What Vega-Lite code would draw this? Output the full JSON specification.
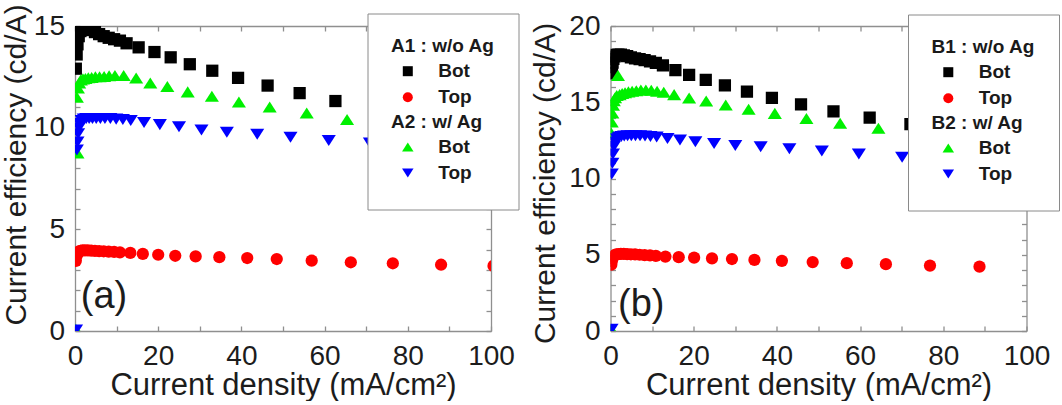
{
  "$schema": "https://vega.github.io/schema/vega-lite/v6.json",
  "background": "white",
  "padding": {"left": 1, "top": 3, "right": 0, "bottom": 0},
  "autosize": {"type": "pad"},
  "config": {
    "view": {"stroke": null},
    "font": "Liberation Sans",
    "axis": {
      "domainColor": "#8f8f8f", "domainWidth": 1.3,
      "tickColor": "#8f8f8f", "tickWidth": 1.3, "tickSize": -5,
      "grid": false,
      "labelFont": "Liberation Sans", "labelFontSize": 28, "labelColor": "#1c1c1c",
      "labelOverlap": false, "labelFlush": false, "labelBound": false,
      "titleFont": "Liberation Sans", "titleFontSize": 30, "titleFontWeight": "normal", "titleColor": "#1c1c1c"
    },
    "axisX": {"labelPadding": 16.8, "titlePadding": 0, "titleFontSize": 31},
    "axisY": {"labelPadding": 15.5, "titlePadding": 2},
    "legend": {
      "orient": "none", "direction": "vertical",
      "fillColor": "white", "strokeColor": "#8a8a8a", "padding": 23.5,
      "titleFont": "Liberation Sans", "titleFontSize": 19, "titleFontWeight": "bold", "titleColor": "#1a1a1a",
      "titlePadding": 5.7, "titleLimit": 300,
      "labelFont": "Liberation Sans", "labelFontSize": 19, "labelFontWeight": "bold", "labelColor": "#1a1a1a",
      "labelLimit": 300, "rowPadding": 6, "symbolOffset": 7.3, "labelOffset": 20.9, "symbolStrokeWidth": 0
    }
  },
  "datasets": {
    "pts": [
      {"panel": "a", "series": "A1 Bot", "J": 0.2, "CE": 12.9},
      {"panel": "a", "series": "A1 Bot", "J": 0.4, "CE": 13.6},
      {"panel": "a", "series": "A1 Bot", "J": 0.6, "CE": 14.1},
      {"panel": "a", "series": "A1 Bot", "J": 0.9, "CE": 14.5},
      {"panel": "a", "series": "A1 Bot", "J": 1.3, "CE": 14.75},
      {"panel": "a", "series": "A1 Bot", "J": 1.8, "CE": 14.85},
      {"panel": "a", "series": "A1 Bot", "J": 2.4, "CE": 14.85},
      {"panel": "a", "series": "A1 Bot", "J": 3.1, "CE": 14.85},
      {"panel": "a", "series": "A1 Bot", "J": 3.9, "CE": 14.8},
      {"panel": "a", "series": "A1 Bot", "J": 4.8, "CE": 14.7},
      {"panel": "a", "series": "A1 Bot", "J": 5.8, "CE": 14.6},
      {"panel": "a", "series": "A1 Bot", "J": 6.9, "CE": 14.5},
      {"panel": "a", "series": "A1 Bot", "J": 8.1, "CE": 14.42},
      {"panel": "a", "series": "A1 Bot", "J": 9.4, "CE": 14.35},
      {"panel": "a", "series": "A1 Bot", "J": 10.8, "CE": 14.28},
      {"panel": "a", "series": "A1 Bot", "J": 12.4, "CE": 14.15},
      {"panel": "a", "series": "A1 Bot", "J": 15.3, "CE": 13.95},
      {"panel": "a", "series": "A1 Bot", "J": 19.1, "CE": 13.72},
      {"panel": "a", "series": "A1 Bot", "J": 23.0, "CE": 13.46},
      {"panel": "a", "series": "A1 Bot", "J": 27.6, "CE": 13.12},
      {"panel": "a", "series": "A1 Bot", "J": 33.0, "CE": 12.8},
      {"panel": "a", "series": "A1 Bot", "J": 39.2, "CE": 12.45},
      {"panel": "a", "series": "A1 Bot", "J": 46.3, "CE": 12.07},
      {"panel": "a", "series": "A1 Bot", "J": 54.0, "CE": 11.7},
      {"panel": "a", "series": "A1 Bot", "J": 62.6, "CE": 11.31},
      {"panel": "a", "series": "A1 Bot", "J": 72.0, "CE": 10.98},
      {"panel": "a", "series": "A1 Bot", "J": 82.3, "CE": 10.65},
      {"panel": "a", "series": "A1 Bot", "J": 93.5, "CE": 10.3},

      {"panel": "a", "series": "A1 Top", "J": 0.2, "CE": 3.45},
      {"panel": "a", "series": "A1 Top", "J": 0.4, "CE": 3.7},
      {"panel": "a", "series": "A1 Top", "J": 0.6, "CE": 3.82},
      {"panel": "a", "series": "A1 Top", "J": 0.9, "CE": 3.9},
      {"panel": "a", "series": "A1 Top", "J": 1.3, "CE": 3.94},
      {"panel": "a", "series": "A1 Top", "J": 1.8, "CE": 3.96},
      {"panel": "a", "series": "A1 Top", "J": 2.4, "CE": 3.96},
      {"panel": "a", "series": "A1 Top", "J": 3.1, "CE": 3.96},
      {"panel": "a", "series": "A1 Top", "J": 3.9, "CE": 3.95},
      {"panel": "a", "series": "A1 Top", "J": 4.8, "CE": 3.94},
      {"panel": "a", "series": "A1 Top", "J": 5.8, "CE": 3.93},
      {"panel": "a", "series": "A1 Top", "J": 6.9, "CE": 3.92},
      {"panel": "a", "series": "A1 Top", "J": 8.1, "CE": 3.9},
      {"panel": "a", "series": "A1 Top", "J": 9.4, "CE": 3.89},
      {"panel": "a", "series": "A1 Top", "J": 10.8, "CE": 3.87},
      {"panel": "a", "series": "A1 Top", "J": 13.3, "CE": 3.84},
      {"panel": "a", "series": "A1 Top", "J": 16.3, "CE": 3.79},
      {"panel": "a", "series": "A1 Top", "J": 20.0, "CE": 3.75},
      {"panel": "a", "series": "A1 Top", "J": 24.1, "CE": 3.7},
      {"panel": "a", "series": "A1 Top", "J": 29.0, "CE": 3.67},
      {"panel": "a", "series": "A1 Top", "J": 34.7, "CE": 3.63},
      {"panel": "a", "series": "A1 Top", "J": 41.4, "CE": 3.59},
      {"panel": "a", "series": "A1 Top", "J": 48.5, "CE": 3.54},
      {"panel": "a", "series": "A1 Top", "J": 56.9, "CE": 3.46},
      {"panel": "a", "series": "A1 Top", "J": 66.3, "CE": 3.38},
      {"panel": "a", "series": "A1 Top", "J": 76.4, "CE": 3.33},
      {"panel": "a", "series": "A1 Top", "J": 88.0, "CE": 3.26},
      {"panel": "a", "series": "A1 Top", "J": 100.6, "CE": 3.2},

      {"panel": "a", "series": "A2 Bot", "J": 0.2, "CE": 0.08},
      {"panel": "a", "series": "A2 Bot", "J": 0.6, "CE": 8.75},
      {"panel": "a", "series": "A2 Bot", "J": 0.45, "CE": 11.5},
      {"panel": "a", "series": "A2 Bot", "J": 0.7, "CE": 11.95},
      {"panel": "a", "series": "A2 Bot", "J": 1.0, "CE": 12.2},
      {"panel": "a", "series": "A2 Bot", "J": 1.4, "CE": 12.35},
      {"panel": "a", "series": "A2 Bot", "J": 1.9, "CE": 12.4},
      {"panel": "a", "series": "A2 Bot", "J": 2.5, "CE": 12.42},
      {"panel": "a", "series": "A2 Bot", "J": 3.2, "CE": 12.45},
      {"panel": "a", "series": "A2 Bot", "J": 4.0, "CE": 12.47},
      {"panel": "a", "series": "A2 Bot", "J": 4.9, "CE": 12.5},
      {"panel": "a", "series": "A2 Bot", "J": 5.9, "CE": 12.5},
      {"panel": "a", "series": "A2 Bot", "J": 7.0, "CE": 12.52},
      {"panel": "a", "series": "A2 Bot", "J": 8.2, "CE": 12.55},
      {"panel": "a", "series": "A2 Bot", "J": 9.6, "CE": 12.57},
      {"panel": "a", "series": "A2 Bot", "J": 11.7, "CE": 12.57},
      {"panel": "a", "series": "A2 Bot", "J": 14.7, "CE": 12.44},
      {"panel": "a", "series": "A2 Bot", "J": 18.1, "CE": 12.2},
      {"panel": "a", "series": "A2 Bot", "J": 22.2, "CE": 12.03},
      {"panel": "a", "series": "A2 Bot", "J": 27.1, "CE": 11.76},
      {"panel": "a", "series": "A2 Bot", "J": 32.9, "CE": 11.55},
      {"panel": "a", "series": "A2 Bot", "J": 39.4, "CE": 11.26},
      {"panel": "a", "series": "A2 Bot", "J": 46.8, "CE": 11.02},
      {"panel": "a", "series": "A2 Bot", "J": 55.7, "CE": 10.72},
      {"panel": "a", "series": "A2 Bot", "J": 65.4, "CE": 10.4},
      {"panel": "a", "series": "A2 Bot", "J": 76.0, "CE": 10.1},
      {"panel": "a", "series": "A2 Bot", "J": 87.5, "CE": 9.8},
      {"panel": "a", "series": "A2 Bot", "J": 99.5, "CE": 9.5},

      {"panel": "a", "series": "A2 Top", "J": 0.25, "CE": 0.05},
      {"panel": "a", "series": "A2 Top", "J": 0.45, "CE": 8.9},
      {"panel": "a", "series": "A2 Top", "J": 0.6, "CE": 9.3},
      {"panel": "a", "series": "A2 Top", "J": 0.75, "CE": 9.7},
      {"panel": "a", "series": "A2 Top", "J": 0.95, "CE": 10.0},
      {"panel": "a", "series": "A2 Top", "J": 1.2, "CE": 10.2},
      {"panel": "a", "series": "A2 Top", "J": 1.6, "CE": 10.35},
      {"panel": "a", "series": "A2 Top", "J": 2.1, "CE": 10.42},
      {"panel": "a", "series": "A2 Top", "J": 2.7, "CE": 10.45},
      {"panel": "a", "series": "A2 Top", "J": 3.4, "CE": 10.45},
      {"panel": "a", "series": "A2 Top", "J": 4.2, "CE": 10.45},
      {"panel": "a", "series": "A2 Top", "J": 5.1, "CE": 10.45},
      {"panel": "a", "series": "A2 Top", "J": 6.1, "CE": 10.45},
      {"panel": "a", "series": "A2 Top", "J": 7.2, "CE": 10.45},
      {"panel": "a", "series": "A2 Top", "J": 8.5, "CE": 10.45},
      {"panel": "a", "series": "A2 Top", "J": 9.9, "CE": 10.42},
      {"panel": "a", "series": "A2 Top", "J": 11.5, "CE": 10.4},
      {"panel": "a", "series": "A2 Top", "J": 13.4, "CE": 10.35},
      {"panel": "a", "series": "A2 Top", "J": 16.6, "CE": 10.25},
      {"panel": "a", "series": "A2 Top", "J": 20.4, "CE": 10.15},
      {"panel": "a", "series": "A2 Top", "J": 25.0, "CE": 10.05},
      {"panel": "a", "series": "A2 Top", "J": 30.4, "CE": 9.88},
      {"panel": "a", "series": "A2 Top", "J": 36.5, "CE": 9.78},
      {"panel": "a", "series": "A2 Top", "J": 43.8, "CE": 9.68},
      {"panel": "a", "series": "A2 Top", "J": 51.8, "CE": 9.53},
      {"panel": "a", "series": "A2 Top", "J": 61.0, "CE": 9.37},
      {"panel": "a", "series": "A2 Top", "J": 70.9, "CE": 9.24},
      {"panel": "a", "series": "A2 Top", "J": 81.8, "CE": 9.05},
      {"panel": "a", "series": "A2 Top", "J": 93.5, "CE": 8.85},

      {"panel": "b", "series": "B1 Bot", "J": 0.2, "CE": 16.9},
      {"panel": "b", "series": "B1 Bot", "J": 0.35, "CE": 17.3},
      {"panel": "b", "series": "B1 Bot", "J": 0.5, "CE": 17.6},
      {"panel": "b", "series": "B1 Bot", "J": 0.7, "CE": 17.85},
      {"panel": "b", "series": "B1 Bot", "J": 1.0, "CE": 18.0},
      {"panel": "b", "series": "B1 Bot", "J": 1.4, "CE": 18.1},
      {"panel": "b", "series": "B1 Bot", "J": 1.9, "CE": 18.12},
      {"panel": "b", "series": "B1 Bot", "J": 2.5, "CE": 18.12},
      {"panel": "b", "series": "B1 Bot", "J": 3.2, "CE": 18.08},
      {"panel": "b", "series": "B1 Bot", "J": 4.0, "CE": 18.02},
      {"panel": "b", "series": "B1 Bot", "J": 4.9, "CE": 17.95},
      {"panel": "b", "series": "B1 Bot", "J": 5.9, "CE": 17.88},
      {"panel": "b", "series": "B1 Bot", "J": 7.0, "CE": 17.82},
      {"panel": "b", "series": "B1 Bot", "J": 8.2, "CE": 17.76},
      {"panel": "b", "series": "B1 Bot", "J": 9.5, "CE": 17.68},
      {"panel": "b", "series": "B1 Bot", "J": 10.9, "CE": 17.58},
      {"panel": "b", "series": "B1 Bot", "J": 12.6, "CE": 17.42},
      {"panel": "b", "series": "B1 Bot", "J": 15.6, "CE": 17.11},
      {"panel": "b", "series": "B1 Bot", "J": 18.9, "CE": 16.79},
      {"panel": "b", "series": "B1 Bot", "J": 22.9, "CE": 16.46},
      {"panel": "b", "series": "B1 Bot", "J": 27.5, "CE": 16.1},
      {"panel": "b", "series": "B1 Bot", "J": 32.8, "CE": 15.69},
      {"panel": "b", "series": "B1 Bot", "J": 38.8, "CE": 15.28},
      {"panel": "b", "series": "B1 Bot", "J": 45.8, "CE": 14.86},
      {"panel": "b", "series": "B1 Bot", "J": 53.6, "CE": 14.4},
      {"panel": "b", "series": "B1 Bot", "J": 62.3, "CE": 13.99},
      {"panel": "b", "series": "B1 Bot", "J": 72.1, "CE": 13.57},
      {"panel": "b", "series": "B1 Bot", "J": 82.8, "CE": 13.18},
      {"panel": "b", "series": "B1 Bot", "J": 94.3, "CE": 12.8},

      {"panel": "b", "series": "B1 Top", "J": 0.2, "CE": 4.35},
      {"panel": "b", "series": "B1 Top", "J": 0.35, "CE": 4.6},
      {"panel": "b", "series": "B1 Top", "J": 0.5, "CE": 4.78},
      {"panel": "b", "series": "B1 Top", "J": 0.7, "CE": 4.9},
      {"panel": "b", "series": "B1 Top", "J": 1.0, "CE": 4.98},
      {"panel": "b", "series": "B1 Top", "J": 1.4, "CE": 5.02},
      {"panel": "b", "series": "B1 Top", "J": 1.9, "CE": 5.04},
      {"panel": "b", "series": "B1 Top", "J": 2.5, "CE": 5.05},
      {"panel": "b", "series": "B1 Top", "J": 3.2, "CE": 5.05},
      {"panel": "b", "series": "B1 Top", "J": 4.0, "CE": 5.04},
      {"panel": "b", "series": "B1 Top", "J": 4.9, "CE": 5.03},
      {"panel": "b", "series": "B1 Top", "J": 5.9, "CE": 5.02},
      {"panel": "b", "series": "B1 Top", "J": 7.0, "CE": 5.0},
      {"panel": "b", "series": "B1 Top", "J": 8.2, "CE": 4.98},
      {"panel": "b", "series": "B1 Top", "J": 9.5, "CE": 4.96},
      {"panel": "b", "series": "B1 Top", "J": 10.9, "CE": 4.93},
      {"panel": "b", "series": "B1 Top", "J": 13.2, "CE": 4.88},
      {"panel": "b", "series": "B1 Top", "J": 16.4, "CE": 4.84},
      {"panel": "b", "series": "B1 Top", "J": 20.1, "CE": 4.81},
      {"panel": "b", "series": "B1 Top", "J": 24.4, "CE": 4.76},
      {"panel": "b", "series": "B1 Top", "J": 29.2, "CE": 4.72},
      {"panel": "b", "series": "B1 Top", "J": 34.6, "CE": 4.66},
      {"panel": "b", "series": "B1 Top", "J": 41.2, "CE": 4.6},
      {"panel": "b", "series": "B1 Top", "J": 48.6, "CE": 4.52},
      {"panel": "b", "series": "B1 Top", "J": 56.8, "CE": 4.45},
      {"panel": "b", "series": "B1 Top", "J": 66.2, "CE": 4.38},
      {"panel": "b", "series": "B1 Top", "J": 76.8, "CE": 4.29},
      {"panel": "b", "series": "B1 Top", "J": 88.7, "CE": 4.22},

      {"panel": "b", "series": "B2 Bot", "J": 0.2, "CE": 0.12},
      {"panel": "b", "series": "B2 Bot", "J": 0.15, "CE": 13.0},
      {"panel": "b", "series": "B2 Bot", "J": 0.3, "CE": 13.7},
      {"panel": "b", "series": "B2 Bot", "J": 0.45, "CE": 14.3},
      {"panel": "b", "series": "B2 Bot", "J": 0.6, "CE": 14.8},
      {"panel": "b", "series": "B2 Bot", "J": 0.8, "CE": 15.1},
      {"panel": "b", "series": "B2 Bot", "J": 1.1, "CE": 15.3},
      {"panel": "b", "series": "B2 Bot", "J": 1.5, "CE": 15.45},
      {"panel": "b", "series": "B2 Bot", "J": 1.8, "CE": 16.75},
      {"panel": "b", "series": "B2 Bot", "J": 2.2, "CE": 15.5},
      {"panel": "b", "series": "B2 Bot", "J": 2.8, "CE": 15.58},
      {"panel": "b", "series": "B2 Bot", "J": 3.5, "CE": 15.62},
      {"panel": "b", "series": "B2 Bot", "J": 4.3, "CE": 15.68},
      {"panel": "b", "series": "B2 Bot", "J": 5.2, "CE": 15.72},
      {"panel": "b", "series": "B2 Bot", "J": 6.2, "CE": 15.76},
      {"panel": "b", "series": "B2 Bot", "J": 7.3, "CE": 15.8},
      {"panel": "b", "series": "B2 Bot", "J": 8.5, "CE": 15.8},
      {"panel": "b", "series": "B2 Bot", "J": 9.8, "CE": 15.78},
      {"panel": "b", "series": "B2 Bot", "J": 11.2, "CE": 15.72},
      {"panel": "b", "series": "B2 Bot", "J": 12.8, "CE": 15.65},
      {"panel": "b", "series": "B2 Bot", "J": 15.3, "CE": 15.5},
      {"panel": "b", "series": "B2 Bot", "J": 18.9, "CE": 15.28},
      {"panel": "b", "series": "B2 Bot", "J": 23.0, "CE": 15.08},
      {"panel": "b", "series": "B2 Bot", "J": 27.7, "CE": 14.82},
      {"panel": "b", "series": "B2 Bot", "J": 33.2, "CE": 14.54},
      {"panel": "b", "series": "B2 Bot", "J": 39.5, "CE": 14.27},
      {"panel": "b", "series": "B2 Bot", "J": 47.1, "CE": 13.93},
      {"panel": "b", "series": "B2 Bot", "J": 55.2, "CE": 13.63},
      {"panel": "b", "series": "B2 Bot", "J": 64.4, "CE": 13.29},
      {"panel": "b", "series": "B2 Bot", "J": 74.5, "CE": 12.95},
      {"panel": "b", "series": "B2 Bot", "J": 85.5, "CE": 12.6},
      {"panel": "b", "series": "B2 Bot", "J": 97.5, "CE": 12.25},

      {"panel": "b", "series": "B2 Top", "J": 0.25, "CE": 0.12},
      {"panel": "b", "series": "B2 Top", "J": 0.3, "CE": 10.3},
      {"panel": "b", "series": "B2 Top", "J": 0.45, "CE": 11.0},
      {"panel": "b", "series": "B2 Top", "J": 0.6, "CE": 11.6},
      {"panel": "b", "series": "B2 Top", "J": 0.8, "CE": 12.1},
      {"panel": "b", "series": "B2 Top", "J": 1.1, "CE": 12.4},
      {"panel": "b", "series": "B2 Top", "J": 1.5, "CE": 12.6},
      {"panel": "b", "series": "B2 Top", "J": 2.0, "CE": 12.7},
      {"panel": "b", "series": "B2 Top", "J": 2.6, "CE": 12.75},
      {"panel": "b", "series": "B2 Top", "J": 3.3, "CE": 12.78},
      {"panel": "b", "series": "B2 Top", "J": 4.1, "CE": 12.8},
      {"panel": "b", "series": "B2 Top", "J": 5.0, "CE": 12.8},
      {"panel": "b", "series": "B2 Top", "J": 6.0, "CE": 12.8},
      {"panel": "b", "series": "B2 Top", "J": 7.1, "CE": 12.8},
      {"panel": "b", "series": "B2 Top", "J": 8.3, "CE": 12.78},
      {"panel": "b", "series": "B2 Top", "J": 9.6, "CE": 12.76},
      {"panel": "b", "series": "B2 Top", "J": 11.1, "CE": 12.72},
      {"panel": "b", "series": "B2 Top", "J": 13.7, "CE": 12.63},
      {"panel": "b", "series": "B2 Top", "J": 16.7, "CE": 12.53},
      {"panel": "b", "series": "B2 Top", "J": 20.4, "CE": 12.41},
      {"panel": "b", "series": "B2 Top", "J": 24.9, "CE": 12.3},
      {"panel": "b", "series": "B2 Top", "J": 30.0, "CE": 12.17},
      {"panel": "b", "series": "B2 Top", "J": 36.1, "CE": 12.08},
      {"panel": "b", "series": "B2 Top", "J": 43.0, "CE": 11.95},
      {"panel": "b", "series": "B2 Top", "J": 50.8, "CE": 11.81},
      {"panel": "b", "series": "B2 Top", "J": 59.7, "CE": 11.6},
      {"panel": "b", "series": "B2 Top", "J": 70.1, "CE": 11.39},
      {"panel": "b", "series": "B2 Top", "J": 81.5, "CE": 11.15},
      {"panel": "b", "series": "B2 Top", "J": 93.5, "CE": 10.9}
    ]
  },
  "spacing": 119.5,
  "bounds": "flush",
  "resolve": {
    "scale": {"x": "independent", "y": "independent", "color": "independent", "shape": "independent"},
    "legend": {"color": "independent", "shape": "independent"}
  },
  "hconcat": [
    {
      "width": 416,
      "height": 305,
      "resolve": {"scale": {"color": "independent", "shape": "independent"}, "legend": {"color": "independent", "shape": "independent"}},
      "layer": [
        {
          "data": {"name": "pts"},
          "transform": [{"filter": "datum.panel === 'a' && slice(datum.series, 0, 2) === 'A1'"}],
          "mark": {"type": "point", "filled": true, "size": 150, "opacity": 1, "clip": true},
          "encoding": {
            "x": {
              "field": "J", "type": "quantitative",
              "scale": {"domain": [0, 100], "nice": false, "zero": false},
              "axis": {"orient": "bottom", "values": [0, 10, 20, 30, 40, 50, 60, 70, 80, 90, 100],
                       "labelExpr": "datum.value % 20 === 0 ? datum.label : ''",
                       "title": "Current density (mA/cm²)"}
            },
            "y": {
              "field": "CE", "type": "quantitative",
              "scale": {"domain": [0, 15], "nice": false, "zero": false},
              "axis": {"orient": "left", "values": [0, 1, 2, 3, 4, 5, 6, 7, 8, 9, 10, 11, 12, 13, 14, 15],
                       "labelExpr": "datum.value % 5 === 0 ? datum.label : ''",
                       "title": "Current efficiency (cd/A)", "titleY": 138.5}
            },
            "color": {
              "field": "series", "type": "nominal",
              "scale": {"domain": ["A1 Bot", "A1 Top", "r1", "r2", "r3"],
                        "range": ["#000000", "#ff0000", "transparent", "transparent", "transparent"]},
              "legend": {
                "title": "A1 : w/o Ag", "legendX": 292.5, "legendY": -12.5,
                "labelExpr": "length(datum.value) > 2 ? slice(datum.value, 3) : ''",
                "encode": {"legend": {"strokeWidth": {"value": 1.5}}}
              }
            },
            "shape": {
              "field": "series", "type": "nominal",
              "scale": {"domain": ["A1 Bot", "A1 Top", "r1", "r2", "r3"],
                        "range": ["square", "circle", "square", "square", "square"]},
              "legend": {
                "title": "A1 : w/o Ag", "legendX": 292.5, "legendY": -12.5,
                "labelExpr": "length(datum.value) > 2 ? slice(datum.value, 3) : ''",
                "encode": {"legend": {"strokeWidth": {"value": 1.5}}}
              }
            }
          }
        },
        {
          "data": {"name": "pts"},
          "transform": [{"filter": "datum.panel === 'a' && slice(datum.series, 0, 2) === 'A2'"}],
          "mark": {"type": "point", "filled": true, "size": 150, "opacity": 1, "clip": true},
          "encoding": {
            "x": {"field": "J", "type": "quantitative", "scale": {"domain": [0, 100], "nice": false, "zero": false}, "axis": null},
            "y": {"field": "CE", "type": "quantitative", "scale": {"domain": [0, 15], "nice": false, "zero": false}, "axis": null},
            "color": {
              "field": "series", "type": "nominal",
              "scale": {"domain": ["A2 Bot", "A2 Top"], "range": ["#00f000", "#0000ff"]},
              "legend": {
                "title": "A2 : w/ Ag", "legendX": 292.5, "legendY": 63.2,
                "fillColor": "transparent", "strokeColor": "transparent",
                "labelExpr": "slice(datum.value, 3)"
              }
            },
            "shape": {
              "field": "series", "type": "nominal",
              "scale": {"domain": ["A2 Bot", "A2 Top"], "range": ["M0,-0.9L1.15,0.9L-1.15,0.9Z", "M0,0.9L1.15,-0.9L-1.15,-0.9Z"]},
              "legend": {
                "title": "A2 : w/ Ag", "legendX": 292.5, "legendY": 63.2,
                "fillColor": "transparent", "strokeColor": "transparent",
                "labelExpr": "slice(datum.value, 3)"
              }
            }
          }
        },
        {
          "data": {"values": [{"tag": "(a)"}]},
          "mark": {"type": "text", "align": "left", "baseline": "alphabetic", "fontSize": 38, "font": "Liberation Sans", "color": "#1c1c1c"},
          "encoding": {
            "text": {"field": "tag"},
            "x": {
              "datum": 1.4, "type": "quantitative",
              "scale": {"domain": [0, 100], "nice": false, "zero": false},
              "axis": {"orient": "top", "values": [0, 10, 20, 30, 40, 50, 60, 70, 80, 90, 100], "labels": false, "title": null}
            },
            "y": {
              "datum": 1.15, "type": "quantitative",
              "scale": {"domain": [0, 15], "nice": false, "zero": false},
              "axis": {"orient": "right", "values": [0, 1, 2, 3, 4, 5, 6, 7, 8, 9, 10, 11, 12, 13, 14, 15], "labels": false, "title": null}
            }
          }
        }
      ]
    },
    {
      "width": 416,
      "height": 305,
      "resolve": {"scale": {"color": "independent", "shape": "independent"}, "legend": {"color": "independent", "shape": "independent"}},
      "layer": [
        {
          "data": {"name": "pts"},
          "transform": [{"filter": "datum.panel === 'b' && slice(datum.series, 0, 2) === 'B1'"}],
          "mark": {"type": "point", "filled": true, "size": 150, "opacity": 1, "clip": true},
          "encoding": {
            "x": {
              "field": "J", "type": "quantitative",
              "scale": {"domain": [0, 100], "nice": false, "zero": false},
              "axis": {"orient": "bottom", "values": [0, 10, 20, 30, 40, 50, 60, 70, 80, 90, 100],
                       "labelExpr": "datum.value % 20 === 0 ? datum.label : ''",
                       "title": "Current density (mA/cm²)"}
            },
            "y": {
              "field": "CE", "type": "quantitative",
              "scale": {"domain": [0, 20], "nice": false, "zero": false},
              "axis": {"orient": "left", "values": [0, 1, 2, 3, 4, 5, 6, 7, 8, 9, 10, 11, 12, 13, 14, 15, 16, 17, 18, 19, 20],
                       "labelExpr": "datum.value % 5 === 0 ? datum.label : ''",
                       "title": "Current efficiency (cd/A)", "titlePadding": 8, "titleY": 157}
            },
            "color": {
              "field": "series", "type": "nominal",
              "scale": {"domain": ["B1 Bot", "B1 Top", "r1", "r2", "r3"],
                        "range": ["#000000", "#ff0000", "transparent", "transparent", "transparent"]},
              "legend": {
                "title": "B1 : w/o Ag", "legendX": 297.5, "legendY": -11.5,
                "labelExpr": "length(datum.value) > 2 ? slice(datum.value, 3) : ''",
                "encode": {"legend": {"strokeWidth": {"value": 1.5}}}
              }
            },
            "shape": {
              "field": "series", "type": "nominal",
              "scale": {"domain": ["B1 Bot", "B1 Top", "r1", "r2", "r3"],
                        "range": ["square", "circle", "square", "square", "square"]},
              "legend": {
                "title": "B1 : w/o Ag", "legendX": 297.5, "legendY": -11.5,
                "labelExpr": "length(datum.value) > 2 ? slice(datum.value, 3) : ''",
                "encode": {"legend": {"strokeWidth": {"value": 1.5}}}
              }
            }
          }
        },
        {
          "data": {"name": "pts"},
          "transform": [{"filter": "datum.panel === 'b' && slice(datum.series, 0, 2) === 'B2'"}],
          "mark": {"type": "point", "filled": true, "size": 150, "opacity": 1, "clip": true},
          "encoding": {
            "x": {"field": "J", "type": "quantitative", "scale": {"domain": [0, 100], "nice": false, "zero": false}, "axis": null},
            "y": {"field": "CE", "type": "quantitative", "scale": {"domain": [0, 20], "nice": false, "zero": false}, "axis": null},
            "color": {
              "field": "series", "type": "nominal",
              "scale": {"domain": ["B2 Bot", "B2 Top"], "range": ["#00f000", "#0000ff"]},
              "legend": {
                "title": "B2 : w/ Ag", "legendX": 297.5, "legendY": 64.2,
                "fillColor": "transparent", "strokeColor": "transparent",
                "labelExpr": "slice(datum.value, 3)"
              }
            },
            "shape": {
              "field": "series", "type": "nominal",
              "scale": {"domain": ["B2 Bot", "B2 Top"], "range": ["M0,-0.9L1.15,0.9L-1.15,0.9Z", "M0,0.9L1.15,-0.9L-1.15,-0.9Z"]},
              "legend": {
                "title": "B2 : w/ Ag", "legendX": 297.5, "legendY": 64.2,
                "fillColor": "transparent", "strokeColor": "transparent",
                "labelExpr": "slice(datum.value, 3)"
              }
            }
          }
        },
        {
          "data": {"values": [{"tag": "(b)"}]},
          "mark": {"type": "text", "align": "left", "baseline": "alphabetic", "fontSize": 38, "font": "Liberation Sans", "color": "#1c1c1c"},
          "encoding": {
            "text": {"field": "tag"},
            "x": {
              "datum": 1.8, "type": "quantitative",
              "scale": {"domain": [0, 100], "nice": false, "zero": false},
              "axis": {"orient": "top", "values": [0, 10, 20, 30, 40, 50, 60, 70, 80, 90, 100], "labels": false, "title": null}
            },
            "y": {
              "datum": 1.0, "type": "quantitative",
              "scale": {"domain": [0, 20], "nice": false, "zero": false},
              "axis": {"orient": "right", "values": [0, 1, 2, 3, 4, 5, 6, 7, 8, 9, 10, 11, 12, 13, 14, 15, 16, 17, 18, 19, 20], "labels": false, "title": null}
            }
          }
        }
      ]
    }
  ]
}
